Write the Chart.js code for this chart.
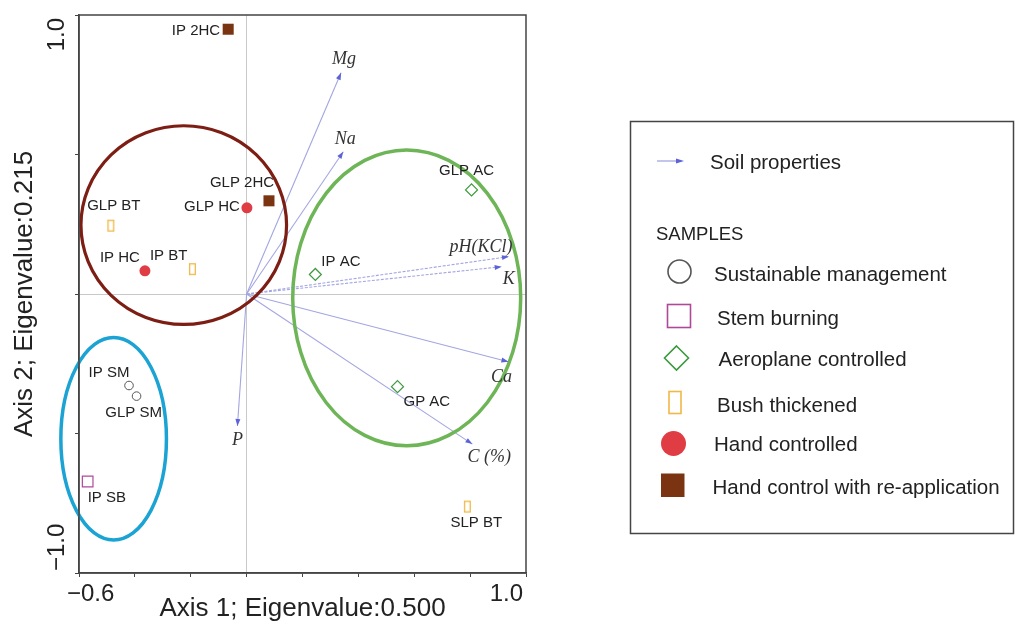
<!DOCTYPE html>
<html><head><meta charset="utf-8">
<script src="https://cdn.jsdelivr.net/npm/chart.js@4.4.1/dist/chart.umd.min.js"></script>
<style>html,body{margin:0;padding:0;background:#fff}#wrap{width:1015px;height:624px;position:relative}</style>
</head><body><div id="wrap"><canvas id="c"></canvas></div>
<script>
// ---------- DATA ----------
const seriesNames = ['Sustainable management','Stem burning','Aeroplane controlled','Bush thickened','Hand controlled','Hand control with re-application'];
const sampleNames = [['IP SM','GLP SM'],['IP SB'],['IP AC','GLP AC','GP AC'],['GLP BT','IP BT','SLP BT'],['GLP HC','IP HC'],['IP 2HC','GLP 2HC']];
const sampleX = [[-0.421,-0.394],[-0.569],[0.246,0.805,0.540],[-0.486,-0.194,0.790],[0.001,-0.364],[-0.066,0.080]];
const sampleY = [[-0.328,-0.366],[-0.672],[0.070,0.373,-0.332],[0.245,0.089,-0.762],[0.309,0.083],[0.949,0.334]];
const propertyNames = ['Mg','Na','pH(KCl)','K','Ca','C (%)','P'];
const propertyX = [0.338,0.346,0.939,0.913,0.937,0.808,-0.033];
const propertyY = [0.793,0.510,0.134,0.098,-0.243,-0.538,-0.473];
const clusterCX = [-0.225,0.573,-0.476];
const clusterCY = [0.247,-0.014,-0.519];
const clusterRX = [0.368,0.408,0.189];
const clusterRY = [0.356,0.530,0.363];
const xTickLabels = ['−0.6','1.0'];
const yTickLabels = ['−1.0','1.0'];
const xTitle = 'Axis 1; Eigenvalue:0.500';
const yTitle = 'Axis 2; Eigenvalue:0.215';
const legendArrowText = 'Soil properties';
const legendHeader = 'SAMPLES';

// ---------- STYLE / PLACEMENT ----------
const SANS = '"Liberation Sans", Arial, sans-serif';
const SERIF = '"Liberation Serif", "Times New Roman", serif';
Chart.defaults.font.family = SANS;
const seriesColors = ['#555555','#b0489a','#3c9a3c','#f0b848','#e03c44','#7a3412'];
const clusterColors = ['#7d1e14','#6db556','#1ba3d4'];
const clusterWidths = [3.2,3.5,3.5];
const arrowLineColor = '#a3a6e2';
const arrowHeadColor = '#5b63d6';
// label offsets in px: [dx, dy, align]
const sampleLabelPlace = [
  [[-20,-13,'center'],[-3,17,'center']],
  [[0,16,'left']],
  [[6,-13,'left'],[-5,-19,'center'],[6,15,'left']],
  [[3,-20,'center'],[-5,-13,'right'],[9,16,'center']],
  [[-7,-1,'right'],[-5,-13,'right']],
  [[-8,2,'right'],[-27,-18,'center']]
];
const propertyLabelPlace = [[3,-13],[2,-12],[-28,-9],[7,13],[-7,15],[17,13],[0,14]];

function bushCanvas(w,h,lw){
  const c=document.createElement('canvas'); c.width=w+2; c.height=h+2;
  const g=c.getContext('2d'); g.strokeStyle=seriesColors[3]; g.lineWidth=lw;
  g.strokeRect(1+lw/2,1+lw/2,w-lw,h-lw); return c;
}
const bushSmall = bushCanvas(7,12,1.3);

const pointStyles = [
  {pointStyle:'circle', pointRadius:4.3, backgroundColor:'rgba(0,0,0,0)', borderColor:seriesColors[0], borderWidth:1},
  {pointStyle:'rect', pointRadius:7.5, backgroundColor:'rgba(0,0,0,0)', borderColor:seriesColors[1], borderWidth:1.2},
  {pointStyle:'rectRot', pointRadius:6, backgroundColor:'rgba(0,0,0,0)', borderColor:seriesColors[2], borderWidth:1.2},
  {pointStyle:bushSmall, pointRadius:6, backgroundColor:'rgba(0,0,0,0)', borderColor:seriesColors[3], borderWidth:1},
  {pointStyle:'circle', pointRadius:5.5, backgroundColor:seriesColors[4], borderColor:seriesColors[4], borderWidth:0},
  {pointStyle:'rect', pointRadius:7.8, backgroundColor:seriesColors[5], borderColor:seriesColors[5], borderWidth:0}
];

const datasets = [];
seriesNames.forEach((name,i)=>{
  datasets.push(Object.assign({label:name, data:sampleX[i].map((x,j)=>({x:x,y:sampleY[i][j]})), clip:false, showLine:false}, pointStyles[i]));
});
propertyNames.forEach((name,i)=>{
  const dashed = (name==='pH(KCl)'||name==='K');
  datasets.push({label:name, data:[{x:0,y:0},{x:propertyX[i],y:propertyY[i]}], showLine:true, pointRadius:0,
    borderColor:arrowLineColor, borderWidth:1.1, borderDash: dashed?[3,1.5]:[], clip:false});
});

const gridColor = c => (c.tick && Math.abs(c.tick.value)<1e-9) ? '#c9c9c9' : 'rgba(0,0,0,0)';

const overlay = {
  id:'overlay',
  beforeDatasetDraw(chart,args){
    if(args.index!==seriesNames.length-1) return;
    const {ctx,scales:{x,y}}=chart;
    ctx.save();
    clusterCX.forEach((cx,i)=>{
      const px=x.getPixelForValue(cx), py=y.getPixelForValue(clusterCY[i]);
      const rx=Math.abs(x.getPixelForValue(cx+clusterRX[i])-px), ry=Math.abs(y.getPixelForValue(clusterCY[i]+clusterRY[i])-py);
      ctx.beginPath(); ctx.ellipse(px,py,rx,ry,0,0,Math.PI*2);
      ctx.strokeStyle=clusterColors[i]; ctx.lineWidth=clusterWidths[i]; ctx.stroke();
    });
    ctx.restore();
  },
  afterDatasetsDraw(chart){
    const {ctx,scales:{x,y},chartArea:a}=chart;
    ctx.save();
    // arrowheads
    propertyX.forEach((px0,i)=>{
      const ox=x.getPixelForValue(0), oy=y.getPixelForValue(0);
      const tx=x.getPixelForValue(px0), ty=y.getPixelForValue(propertyY[i]);
      const ang=Math.atan2(ty-oy,tx-ox);
      ctx.save(); ctx.translate(tx,ty); ctx.rotate(ang);
      ctx.beginPath(); ctx.moveTo(0,0); ctx.lineTo(-7,-2.5); ctx.lineTo(-7,2.5); ctx.closePath();
      ctx.fillStyle=arrowHeadColor; ctx.fill(); ctx.restore();
      const pl=propertyLabelPlace[i];
      ctx.font='italic 18px '+SERIF; ctx.fillStyle='#333'; ctx.textAlign='center'; ctx.textBaseline='middle';
      ctx.fillText(propertyNames[i], tx+pl[0], ty+pl[1]);
    });
    // sample labels
    ctx.font='15px '+SANS; ctx.fillStyle='#222'; ctx.textBaseline='middle';
    sampleNames.forEach((names,i)=>names.forEach((n,j)=>{
      const p=sampleLabelPlace[i][j];
      ctx.textAlign=p[2];
      ctx.fillText(n, x.getPixelForValue(sampleX[i][j])+p[0], y.getPixelForValue(sampleY[i][j])+p[1]);
    }));
    // frame
    ctx.strokeStyle='#444'; ctx.lineWidth=1.5;
    ctx.strokeRect(a.left,a.top,a.right-a.left,a.bottom-a.top);
    // tick labels
    ctx.font='24px '+SANS; ctx.fillStyle='#222'; ctx.textBaseline='middle';
    ctx.textAlign='left'; ctx.fillText(xTickLabels[0], x.getPixelForValue(x.min)-12, a.bottom+21);
    ctx.textAlign='right'; ctx.fillText(xTickLabels[1], x.getPixelForValue(x.max)-3, a.bottom+21);
    [[y.min,yTickLabels[0],'left',2],[y.max,yTickLabels[1],'right',3]].forEach(t=>{
      ctx.save(); ctx.translate(a.left-22, y.getPixelForValue(t[0])); ctx.rotate(-Math.PI/2);
      ctx.textAlign=t[2]; ctx.fillText(t[1], t[2]==='left'?t[3]:-t[3], 0); ctx.restore();
    });
    ctx.restore();
  },
  afterDraw(chart){
    const ctx=chart.ctx; ctx.save();
    ctx.strokeStyle='#444'; ctx.lineWidth=1.5; ctx.strokeRect(630.5,121.5,383,412);
    // arrow symbol
    ctx.strokeStyle=arrowLineColor; ctx.lineWidth=1.3; ctx.beginPath(); ctx.moveTo(657,161); ctx.lineTo(680,161); ctx.stroke();
    ctx.fillStyle=arrowHeadColor; ctx.beginPath(); ctx.moveTo(684,161); ctx.lineTo(676,158.5); ctx.lineTo(676,163.5); ctx.closePath(); ctx.fill();
    ctx.fillStyle='#222'; ctx.textBaseline='middle'; ctx.textAlign='left';
    ctx.font='20.5px '+SANS; ctx.fillText(legendArrowText,710,163);
    ctx.font='18.5px '+SANS; ctx.fillText(legendHeader,656,235);
    // symbols
    ctx.lineWidth=1.6;
    ctx.strokeStyle=seriesColors[0]; ctx.beginPath(); ctx.arc(679.5,271.5,11.5,0,Math.PI*2); ctx.stroke();
    ctx.strokeStyle=seriesColors[1]; ctx.strokeRect(667.5,304.5,23,23);
    ctx.strokeStyle=seriesColors[2]; ctx.beginPath(); ctx.moveTo(676.5,346); ctx.lineTo(688.5,358); ctx.lineTo(676.5,370); ctx.lineTo(664.5,358); ctx.closePath(); ctx.stroke();
    ctx.strokeStyle=seriesColors[3]; ctx.strokeRect(669,391.5,12,22);
    ctx.fillStyle=seriesColors[4]; ctx.beginPath(); ctx.arc(673.5,443.5,12.5,0,Math.PI*2); ctx.fill();
    ctx.fillStyle=seriesColors[5]; ctx.fillRect(661,473.5,23.5,23.5);
    ctx.fillStyle='#222'; ctx.font='20.5px '+SANS;
    const lx=[714,717,718.5,717,714,712.5], ly=[275,319.5,360,406,445,488];
    seriesNames.forEach((n,i)=>ctx.fillText(n,lx[i],ly[i]));
    ctx.restore();
  }
};

new Chart(document.getElementById('c'),{
  type:'scatter',
  data:{datasets},
  options:{
    responsive:true, maintainAspectRatio:false, animation:false, events:[],
    layout:{padding:{left:0,top:15,right:489,bottom:0}},
    plugins:{legend:{display:false},tooltip:{enabled:false}},
    scales:{
      x:{type:'linear',min:-0.6,max:1.0,
        ticks:{display:false,stepSize:0.2},
        grid:{color:gridColor,tickColor:'#444',tickLength:4,drawTicks:true,lineWidth:1},
        border:{color:'#444',width:1.5},
        title:{display:true,text:xTitle,color:'#222',font:{size:26,family:SANS},padding:{top:2,bottom:0}},
        afterFit:s=>{s.height=51;}
      },
      y:{type:'linear',min:-1,max:1,
        ticks:{display:false,stepSize:0.5},
        grid:{color:gridColor,tickColor:'#444',tickLength:4,drawTicks:true,lineWidth:1},
        border:{color:'#444',width:1.5},
        title:{display:true,text:yTitle,color:'#222',font:{size:26,family:SANS},padding:{top:9,bottom:0}},
        afterFit:s=>{s.width=79;}
      }
    }
  },
  plugins:[overlay]
});
</script></body></html>
